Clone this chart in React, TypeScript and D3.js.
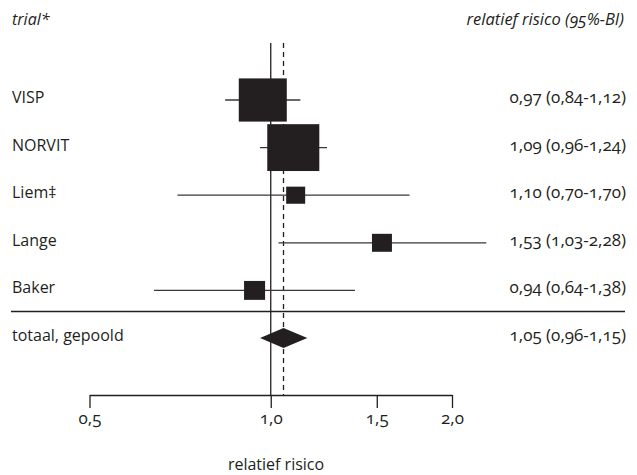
import React, { useRef, useEffect } from "react";
import * as d3 from "d3";

// trial data
const trials = ["VISP", "NORVIT", "Liem‡", "Lange", "Baker"];
const rr = [0.97, 1.09, 1.1, 1.53, 0.94];
const lower = [0.84, 0.96, 0.7, 1.03, 0.64];
const upper = [1.12, 1.24, 1.7, 2.28, 1.38];
const weights = [37, 43.5, 5.8, 6.4, 7.1];
const labels = [
  "0,97 (0,84-1,12)",
  "1,09 (0,96-1,24)",
  "1,10 (0,70-1,70)",
  "1,53 (1,03-2,28)",
  "0,94 (0,64-1,38)",
];

const pooled = { name: "totaal, gepoold", rr: 1.05, lower: 0.96, upper: 1.15, label: "1,05 (0,96-1,15)" };

const tickValues = [0.5, 1.0, 1.5, 2.0];
const tickLabels = ["0,5", "1,0", "1,5", "2,0"];

const App = () => {
  const svgRef = useRef<SVGSVGElement>(null);

  useEffect(() => {
    const width = 637;
    const height = 475;
    const ink = "#231f20";
    const font = "'Open Sans', sans-serif";
    const fs = "16px";
    const numFs = "17px";

    const svg = d3.select(svgRef.current).attr("width", width).attr("height", height);
    svg.selectAll("*").remove();

    const x = d3.scaleLog().domain([0.5, 2]).range([89.5, 452]);
    const rows = [...trials, "pooled"];
    const y = d3.scalePoint().domain(rows).range([100, 338]);
    const size = d3.scaleSqrt().domain([0, 37]).range([0, 48]);
    const axisY = 395;
    const lineTop = 43;

    // reference line at 1 and pooled estimate line
    svg.append("line")
      .attr("x1", x(1)).attr("x2", x(1))
      .attr("y1", lineTop).attr("y2", axisY)
      .attr("stroke", ink).attr("stroke-width", 1.3);

    svg.append("line")
      .attr("x1", x(pooled.rr)).attr("x2", x(pooled.rr))
      .attr("y1", lineTop).attr("y2", axisY)
      .attr("stroke", ink).attr("stroke-width", 1.3)
      .attr("stroke-dasharray", "5,4");

    // headers
    svg.append("text")
      .attr("x", 12).attr("y", 25)
      .text("trial*")
      .attr("fill", ink).style("font-family", font).style("font-style", "italic").style("font-size", "16px");

    svg.append("text")
      .attr("x", 624).attr("y", 25)
      .attr("text-anchor", "end")
      .text("relatief risico (95%-BI)")
      .attr("fill", ink).style("font-family", font).style("font-style", "italic")
      .style("font-size", "16.5px").style("font-variant-numeric", "oldstyle-nums");

    const data = trials.map((name, i) => ({
      name, rr: rr[i], lower: lower[i], upper: upper[i], w: weights[i], label: labels[i],
    }));

    const g = svg.selectAll("g.trial").data(data).enter().append("g").attr("class", "trial");

    g.append("line")
      .attr("x1", (d) => x(d.lower)).attr("x2", (d) => x(d.upper))
      .attr("y1", (d) => y(d.name)!).attr("y2", (d) => y(d.name)!)
      .attr("stroke", "#3a3637").attr("stroke-width", 1.3);

    g.append("rect")
      .attr("x", (d) => x(d.rr) - size(d.w) / 2)
      .attr("y", (d) => y(d.name)! - (size(d.w) * 0.9) / 2)
      .attr("width", (d) => size(d.w))
      .attr("height", (d) => size(d.w) * 0.9)
      .attr("fill", ink);

    g.append("text")
      .attr("x", 12).attr("y", (d) => y(d.name)! + 3)
      .text((d) => d.name)
      .attr("fill", ink).style("font-family", font).style("font-size", fs);

    g.append("text")
      .attr("x", 626).attr("y", (d) => y(d.name)! + 3)
      .attr("text-anchor", "end")
      .text((d) => d.label)
      .attr("fill", ink).style("font-family", font).style("font-size", numFs)
      .style("font-variant-numeric", "oldstyle-nums");

    // separator
    svg.append("line")
      .attr("x1", 11).attr("x2", 625).attr("y1", 311.5).attr("y2", 311.5)
      .attr("stroke", ink).attr("stroke-width", 1.3);

    // pooled diamond
    const py = y("pooled")!;
    const dh = 10;
    svg.append("path")
      .attr("d", d3.line()([
        [x(pooled.lower), py],
        [x(pooled.rr), py - dh],
        [x(pooled.upper), py],
        [x(pooled.rr), py + dh],
      ]) + "Z")
      .attr("fill", ink);

    svg.append("text")
      .attr("x", 12).attr("y", py + 3)
      .text(pooled.name)
      .attr("fill", ink).style("font-family", font).style("font-size", fs);

    svg.append("text")
      .attr("x", 626).attr("y", py + 3)
      .attr("text-anchor", "end")
      .text(pooled.label)
      .attr("fill", ink).style("font-family", font).style("font-size", numFs)
      .style("font-variant-numeric", "oldstyle-nums");

    // x axis
    const axis = d3.axisBottom(x)
      .tickValues(tickValues)
      .tickFormat((_d, i) => tickLabels[i])
      .tickSize(13)
      .tickSizeOuter(0)
      .tickPadding(4);

    const ax = svg.append("g").attr("transform", `translate(0,${axisY})`).call(axis);
    ax.select(".domain").attr("stroke", ink).attr("stroke-width", 1.3);
    ax.selectAll(".tick line").attr("stroke", ink).attr("stroke-width", 1.3);
    ax.selectAll(".tick text")
      .attr("fill", ink)
      .style("font-family", font)
      .style("font-size", numFs)
      .style("font-variant-numeric", "oldstyle-nums");

    svg.append("text")
      .attr("x", 276).attr("y", 470)
      .attr("text-anchor", "middle")
      .text("relatief risico")
      .attr("fill", ink).style("font-family", font).style("font-size", fs);
  }, []);

  return (
    <div style={{ position: "absolute", left: 0, top: 0 }}>
      <svg ref={svgRef}></svg>
    </div>
  );
};

export default App;
